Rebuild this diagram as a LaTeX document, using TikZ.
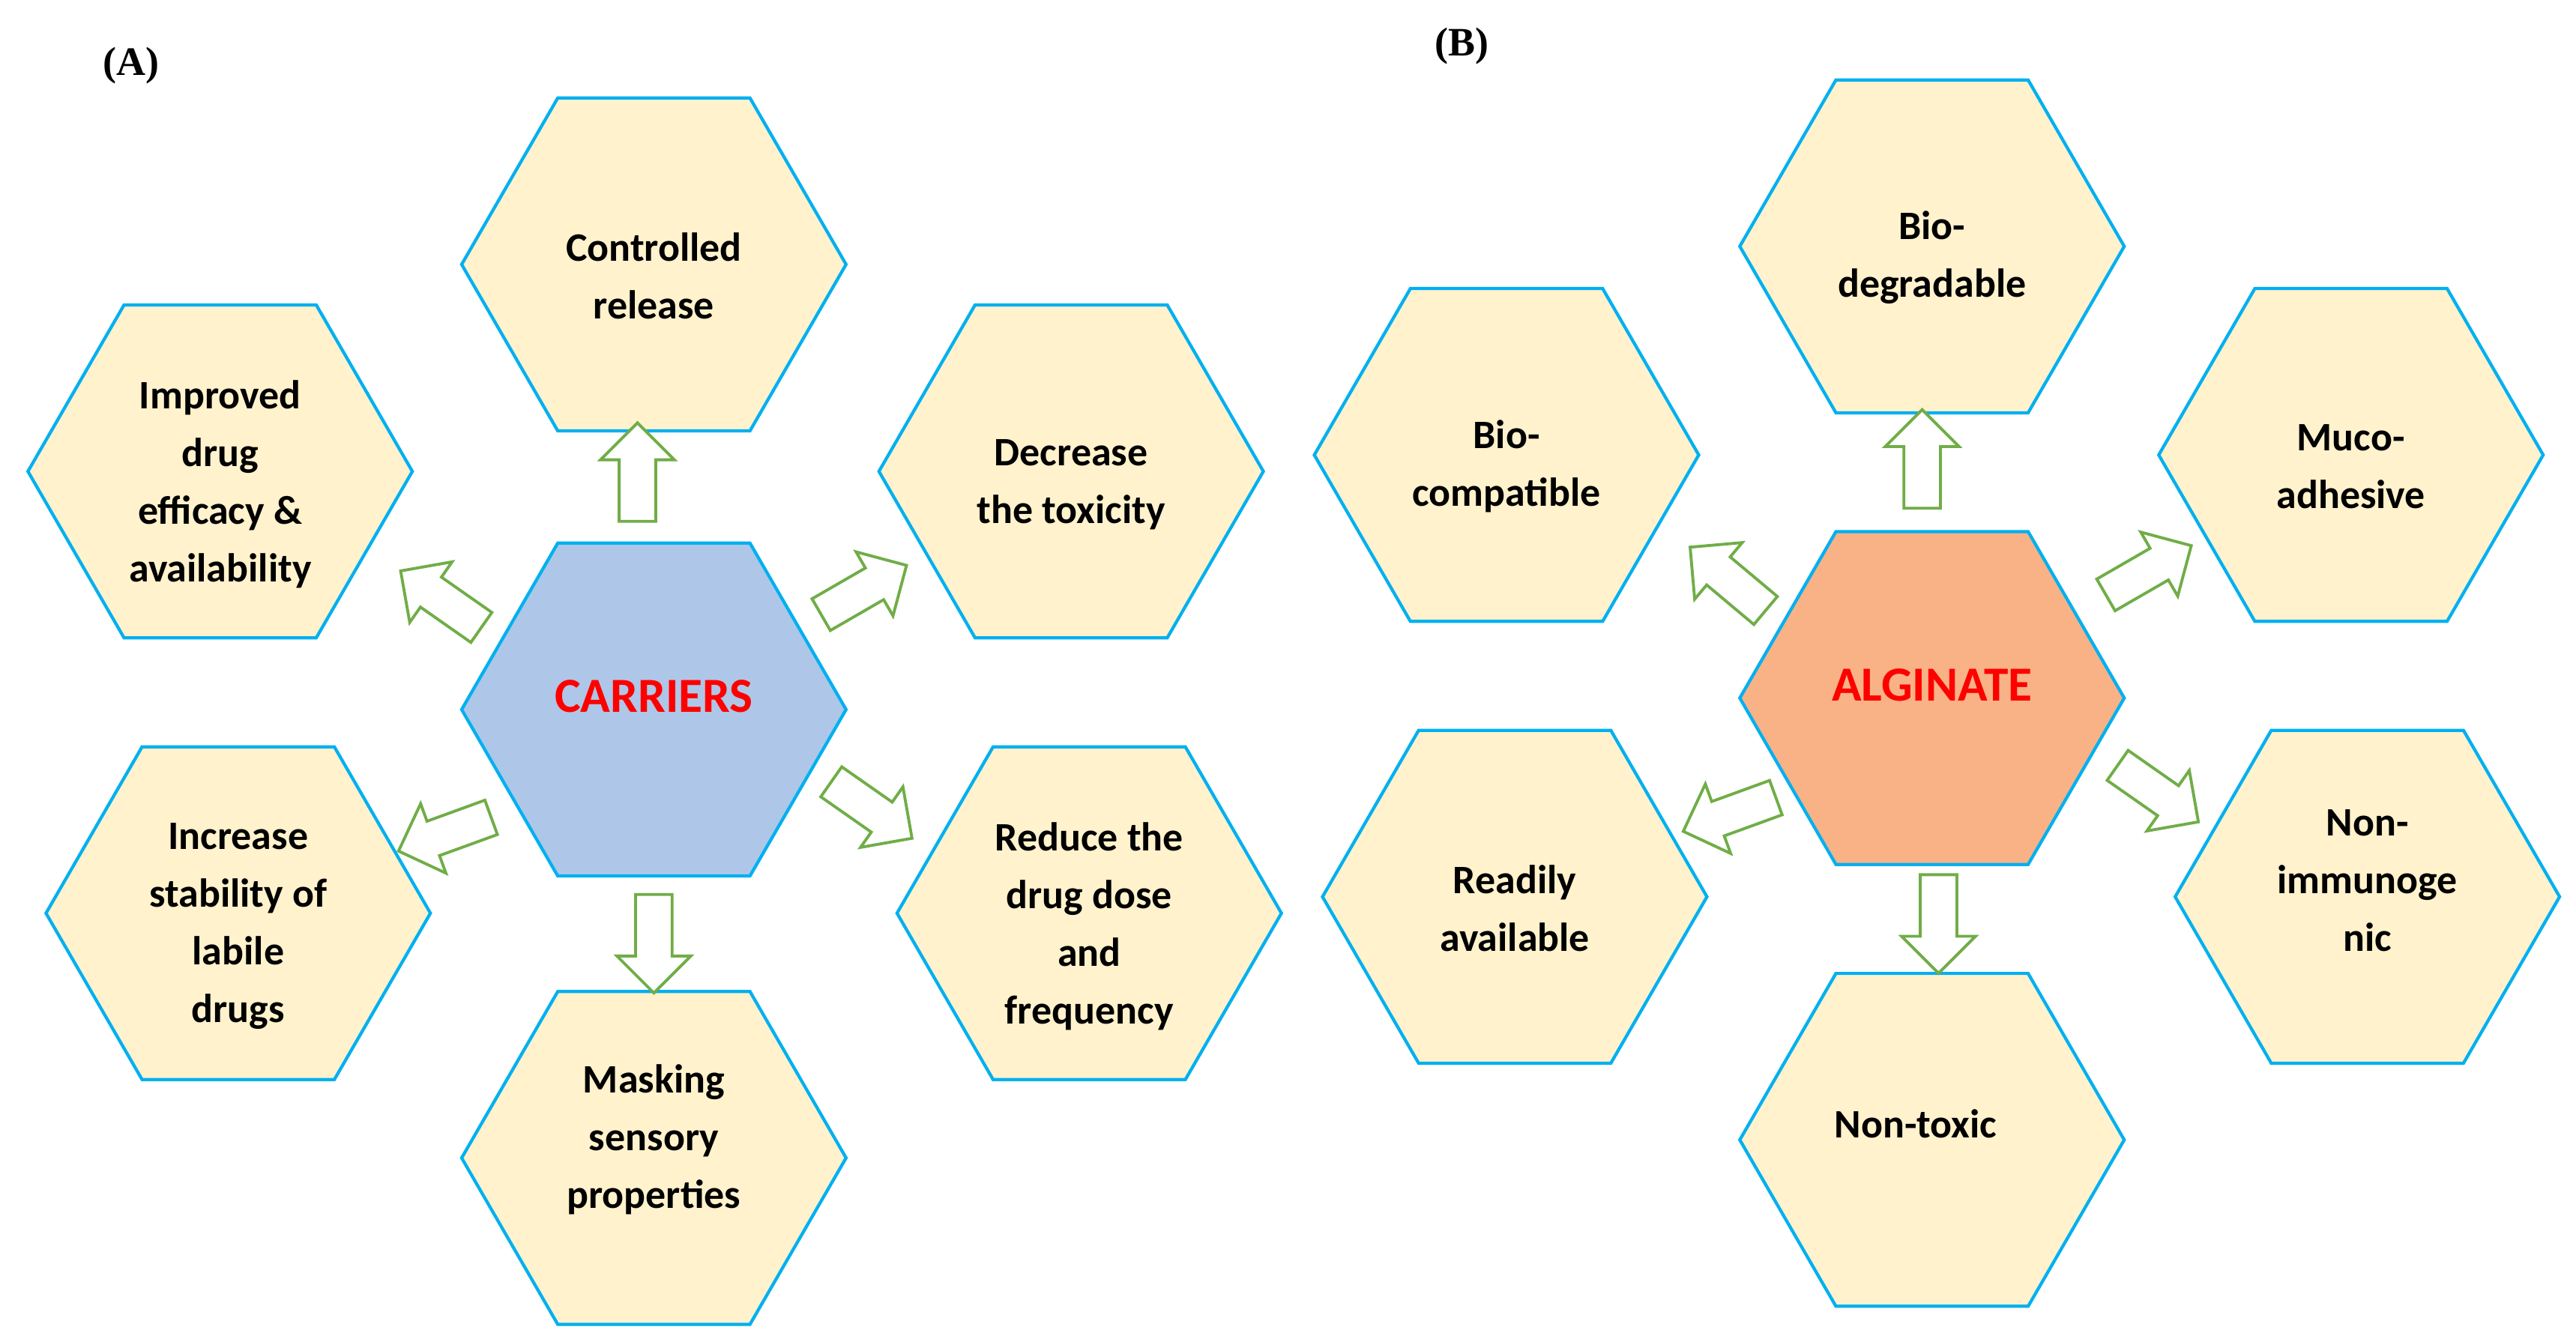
\documentclass[tikz,border=0pt]{standalone}
\usepackage{fontspec}
\setmainfont{Carlito}
\newfontfamily\tnr{Liberation Serif}
\usetikzlibrary{shapes.arrows}
\definecolor{hfill}{HTML}{FFF2CC}
\definecolor{hline}{HTML}{00B0F0}
\definecolor{cblue}{HTML}{AEC7E8}
\definecolor{corange}{HTML}{F8B286}
\definecolor{agreen}{HTML}{70AD47}
\tikzset{
 hexs/.style={draw=hline,line width=1.1pt,fill=hfill},
 lbl/.style={align=center,font=\fontsize{14}{20}\selectfont\bfseries,text=black},
 ctr/.style={align=center,font=\fontsize{17}{20}\selectfont\bfseries,text=red},
 arr/.style={single arrow,draw=agreen,fill=white,line width=1pt,minimum height=1.2cm,minimum width=0.9cm,single arrow head extend=0.12cm,inner sep=0.1cm},
 panel/.style={font=\tnr\fontsize{14}{16}\selectfont\bfseries}
}
\newcommand{\hexat}[3]{\draw[hexs,fill=#3] (#1,#2) +(0:117) -- +(60:117) -- +(120:117) -- +(180:117) -- +(240:117) -- +(300:117) -- cycle;}
\begin{document}
\begin{tikzpicture}[x=0.02cm,y=-0.02cm]
\useasboundingbox (0,0) rectangle (1568,817);
% panel A
\hexat{398}{161}{hfill}\node[lbl] (a1) at (398,168) {Controlled\\release};
\hexat{134}{287}{hfill}\node[lbl] (a2) at (134,295) {Improved\\drug\\efficacy \&\\availability};
\hexat{652}{287}{hfill}\node[lbl] (a3) at (652,295) {Decrease\\the toxicity};
\hexat{398}{432}{cblue}\node[ctr] (ac) at (398,424) {CARRIERS};
\hexat{145}{556}{hfill}\node[lbl] (a4) at (145,564) {Increase\\stability of\\labile\\drugs};
\hexat{663}{556}{hfill}\node[lbl] (a5) at (663,564) {Reduce the\\drug dose\\and\\frequency};
\hexat{398}{705}{hfill}\node[lbl] (a6) at (398,694) {Masking\\sensory\\properties};
\node[arr,rotate=90] (r1) at (388,293) {};
\node[arr,rotate=145] (r2) at (273,368) {};
\node[arr,rotate=30] (r3) at (521,362) {};
\node[arr,rotate=200] (r4) at (276,506) {};
\node[arr,rotate=-35] (r5) at (526,490) {};
\node[arr,rotate=-90] (r6) at (398,569) {};
% panel B
\hexat{1176}{150}{hfill}\node[lbl] (b1) at (1176,157) {Bio-\\degradable};
\hexat{917}{277}{hfill}\node[lbl] (b2) at (917,284) {Bio-\\compatible};
\hexat{1431}{277}{hfill}\node[lbl] (b3) at (1431,284) {Muco-\\adhesive};
\hexat{1176}{425}{corange}\node[ctr] (bc) at (1176,417) {ALGINATE};
\hexat{922}{546}{hfill}\node[lbl] (b4) at (922,553) {Readily\\available};
\hexat{1441}{546}{hfill}\node[lbl] (b5) at (1441,536) {Non-\\immunoge\\nic};
\hexat{1176}{694}{hfill}\node[lbl] (b6) at (1166,684) {Non-toxic};
\node[arr,rotate=90] (s1) at (1170,285) {};
\node[arr,rotate=140] (s2) at (1056,356) {};
\node[arr,rotate=30] (s3) at (1303,350) {};
\node[arr,rotate=200] (s4) at (1058,494) {};
\node[arr,rotate=-35] (s5) at (1309,480) {};
\node[arr,rotate=-90] (s6) at (1180,557) {};
\node[panel] (pa) at (80,40) {(A)};
\node[panel] (pb) at (890,28) {(B)};
\end{tikzpicture}
\end{document}
